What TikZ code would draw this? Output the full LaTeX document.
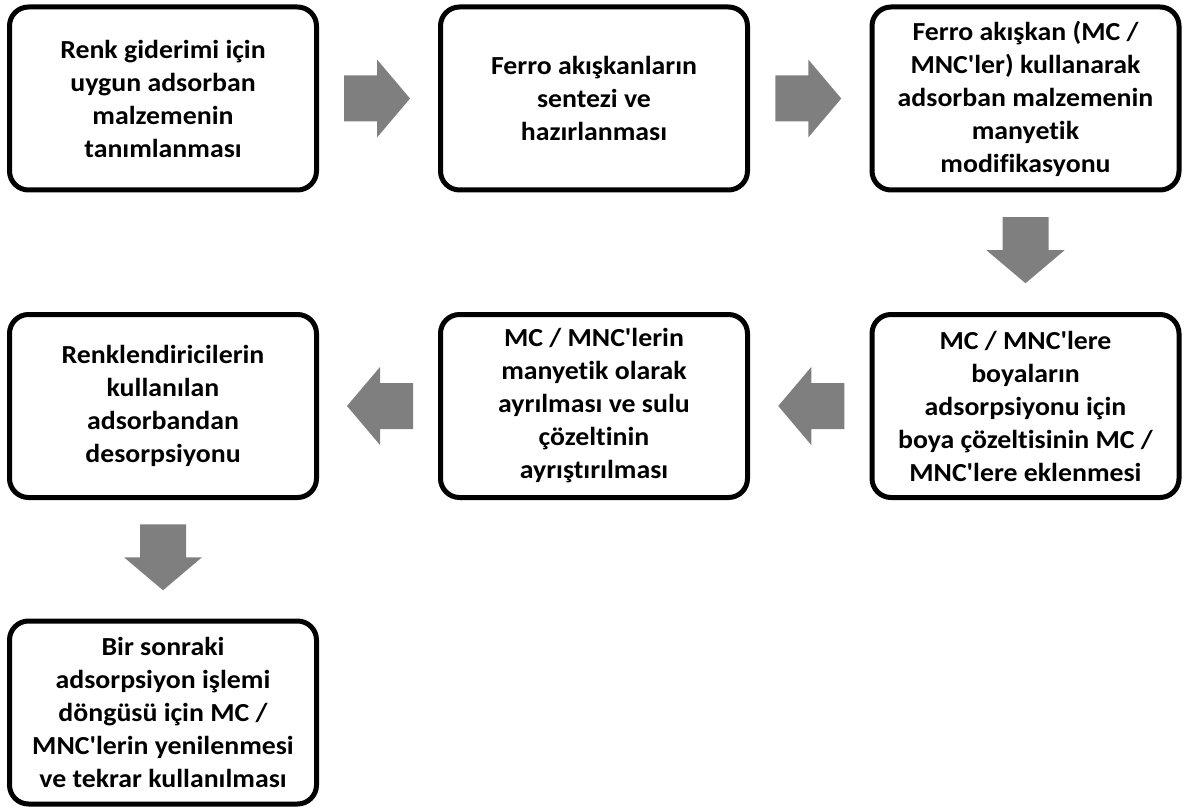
\documentclass[tikz,border=0pt]{standalone}
\usepackage{fontspec}
\setmainfont{Carlito}[Ligatures={TeXOff,CommonOff},FakeStretch=1.07]
\usetikzlibrary{calc}
\definecolor{arrowgray}{RGB}{127,127,127}
\tikzset{
  stepbox/.style={draw=black, line width=5pt, rounded corners=19pt, fill=white,
    minimum width=307pt, minimum height=183pt, align=center, inner sep=2pt,
    font=\fontsize{26}{33}\selectfont\bfseries, text=black},
  blockarrow/.pic={\fill[arrowgray] (-33,-23) -- (0,-23) -- (0,-39) -- (33,0)
    -- (0,39) -- (0,23) -- (-33,23) -- cycle;},
}
\begin{document}
\begin{tikzpicture}[x=1pt,y=-1pt]
\useasboundingbox (0,0) rectangle (1188,810);
\node[stepbox] (b1) at (163,98.5) {Renk giderimi için\\uygun adsorban\\malzemenin\\tanımlanması};
\node[stepbox] (b2) at (594,98.5) {Ferro akışkanların\\sentezi ve\\hazırlanması};
\node[stepbox] (b3) at (1025.5,98.5) {Ferro akışkan (MC /\\MNC'ler) kullanarak\\adsorban malzemenin\\manyetik\\modifikasyonu};
\node[stepbox] (b4) at (1025.5,406) {MC / MNC'lere\\boyaların\\adsorpsiyonu için\\boya çözeltisinin MC /\\MNC'lere eklenmesi};
\node[stepbox] (b5) at (594,406) {MC / MNC'lerin\\manyetik olarak\\ayrılması ve sulu\\çözeltinin\\ayrıştırılması};
\node[stepbox] (b6) at (163,406) {Renklendiricilerin\\kullanılan\\adsorbandan\\desorpsiyonu};
\node[stepbox] (b7) at (163,712.5) {Bir sonraki\\adsorpsiyon işlemi\\döngüsü için MC /\\MNC'lerin yenilenmesi\\ve tekrar kullanılması};
\coordinate (a12) at ($(b1.east)!0.5!(b2.west)+(-1.5,0)$);
\coordinate (a23) at ($(b2.east)!0.5!(b3.west)+(-1.5,0)$);
\coordinate (a34) at ($(b3.south)!0.5!(b4.north)+(0,-2)$);
\coordinate (a45) at ($(b4.west)!0.5!(b5.east)+(1.5,0)$);
\coordinate (a56) at ($(b5.west)!0.5!(b6.east)+(1.5,0)$);
\coordinate (a67) at ($(b6.south)!0.5!(b7.north)+(0,-2)$);
\pic at (a12) {blockarrow};
\pic at (a23) {blockarrow};
\pic[rotate=-90] at (a34) {blockarrow};
\pic[rotate=180] at (a45) {blockarrow};
\pic[rotate=180] at (a56) {blockarrow};
\pic[rotate=-90] at (a67) {blockarrow};
\end{tikzpicture}
\end{document}
